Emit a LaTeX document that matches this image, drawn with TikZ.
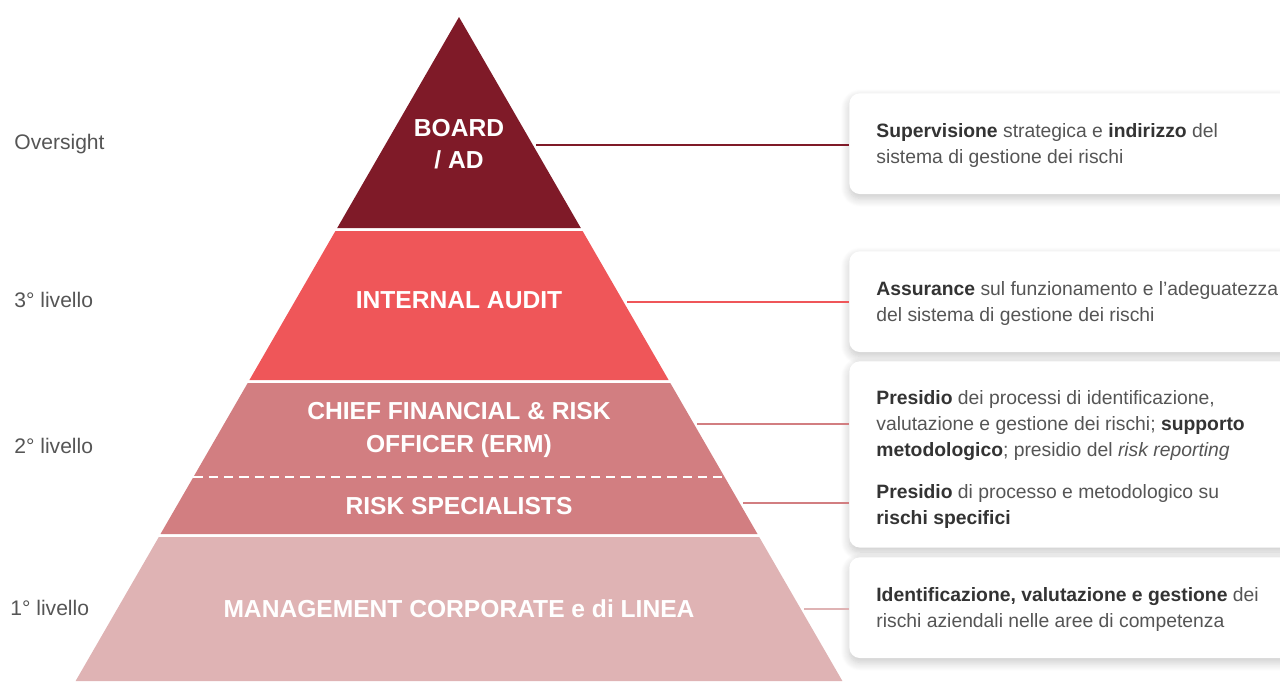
\documentclass[tikz,border=0pt]{standalone}
\usepackage{fontspec}
\setmainfont{Liberation Sans}
\usepackage{tikz}
\usetikzlibrary{calc}
\usetikzlibrary{shadows.blur}
\definecolor{boardred}{RGB}{127,26,40}
\definecolor{auditred}{RGB}{239,86,89}
\definecolor{cforose}{RGB}{210,126,129}
\definecolor{mgmtpink}{RGB}{223,179,180}
\definecolor{bodygray}{RGB}{85,85,85}
\definecolor{strongray}{RGB}{51,51,51}
\tikzset{
  layer label/.style={text=white, align=center, inner sep=0pt,
    font=\bfseries\fontsize{14}{18.5}\selectfont},
  level label/.style={anchor=west, inner sep=0pt, text=bodygray,
    font=\fontsize{12}{14}\selectfont},
  infobox/.style={fill=white, rounded corners=6pt, anchor=north west,
    minimum width=260pt, inner sep=0pt,
    blur shadow={shadow xshift=0pt, shadow yshift=-2.5pt,
      shadow blur radius=5pt, shadow blur steps=10, shadow opacity=22}},
  infotext/.style={anchor=west, inner sep=0pt, text=bodygray, align=left,
    font=\fontsize{11}{14.7}\selectfont},
  link/.style={line width=1.1pt},
}
\newcommand{\hl}[1]{\textcolor{strongray}{\textbf{#1}}}

\begin{document}
\begin{tikzpicture}[x=0.02cm, y=-0.02cm]
\useasboundingbox (0,0) rectangle (1280,681);

\coordinate (T) at (459,17);

\fill [boardred] (T) -- (580.8,228) -- (337.2,228) -- cycle;
\fill [auditred] (335.4,231) -- (582.6,231) -- (668.6,380) -- (249.4,380) -- cycle;
\fill [cforose] (247.7,383) -- (670.3,383) -- (757.5,534) -- (160.5,534) -- cycle;
\fill [mgmtpink] (158.8,537) -- (759.2,537) -- (842.4,681) -- (75.6,681) -- cycle;

\draw [white, line width=1.2pt, dash pattern=on 5.3pt off 3.4pt] (193.4,477) -- (724.6,477);

\node [layer label] (board) at (459,144) {BOARD\\/ AD};
\node [layer label] (audit) at (459,300) {INTERNAL AUDIT};
\node [layer label] (cfo) at (459,430) {CHIEF FINANCIAL \& RISK\\OFFICER (ERM)};
\node [layer label] (spec) at (459,506) {RISK SPECIALISTS};
\node [layer label] (mgmt) at (459,609) {MANAGEMENT CORPORATE e di LINEA};

\node [level label] (lvlover) at (14,144) {Oversight};
\node [level label] (lvl3) at (14,300) {3° livello};
\node [level label] (lvl2) at (14,446) {2° livello};
\node [level label] (lvl1) at (10,608) {1° livello};

\node [infobox, minimum height=57.3pt] (box1) at (849,93) {};
\node [infobox, minimum height=57.3pt] (box2) at (849,251) {};
\node [infobox, minimum height=106pt] (box3) at (849,361) {};
\node [infobox, minimum height=57.3pt] (box4) at (849,557) {};

\node [infotext] (txt1) at ($(box1.west)+(27,2)$)
  {\hl{Supervisione} strategica e \hl{indirizzo} del\\sistema di gestione dei rischi};
\node [infotext] (txt2) at ($(box2.west)+(27,2)$)
  {\hl{Assurance} sul funzionamento e l’adeguatezza\\del sistema di gestione dei rischi};
\node [infotext] (txt3) at ($(box3.west)+(27,5)$)
  {\hl{Presidio} dei processi di identificazione,\\valutazione e gestione dei rischi; \hl{supporto}\\\hl{metodologico}; presidio del \textit{risk reporting}\\[9.5pt]\hl{Presidio} di processo e metodologico su\\\hl{rischi specifici}};
\node [infotext] (txt4) at ($(box4.west)+(27,2)$)
  {\hl{Identificazione, valutazione e gestione} dei\\rischi aziendali nelle aree di competenza};

\coordinate (c1) at (536,145);
\coordinate (c2) at (627,302);
\coordinate (c3) at (697,424);
\coordinate (c4) at (743,503);
\coordinate (c5) at (804,609);

\draw [link, boardred] (c1) -- (c1 -| box1.west);
\draw [link, auditred] (c2) -- (c2 -| box2.west);
\draw [link, cforose] (c3) -- (c3 -| box3.west);
\draw [link, cforose] (c4) -- (c4 -| box3.west);
\draw [link, mgmtpink] (c5) -- (c5 -| box4.west);

\end{tikzpicture}
\end{document}
